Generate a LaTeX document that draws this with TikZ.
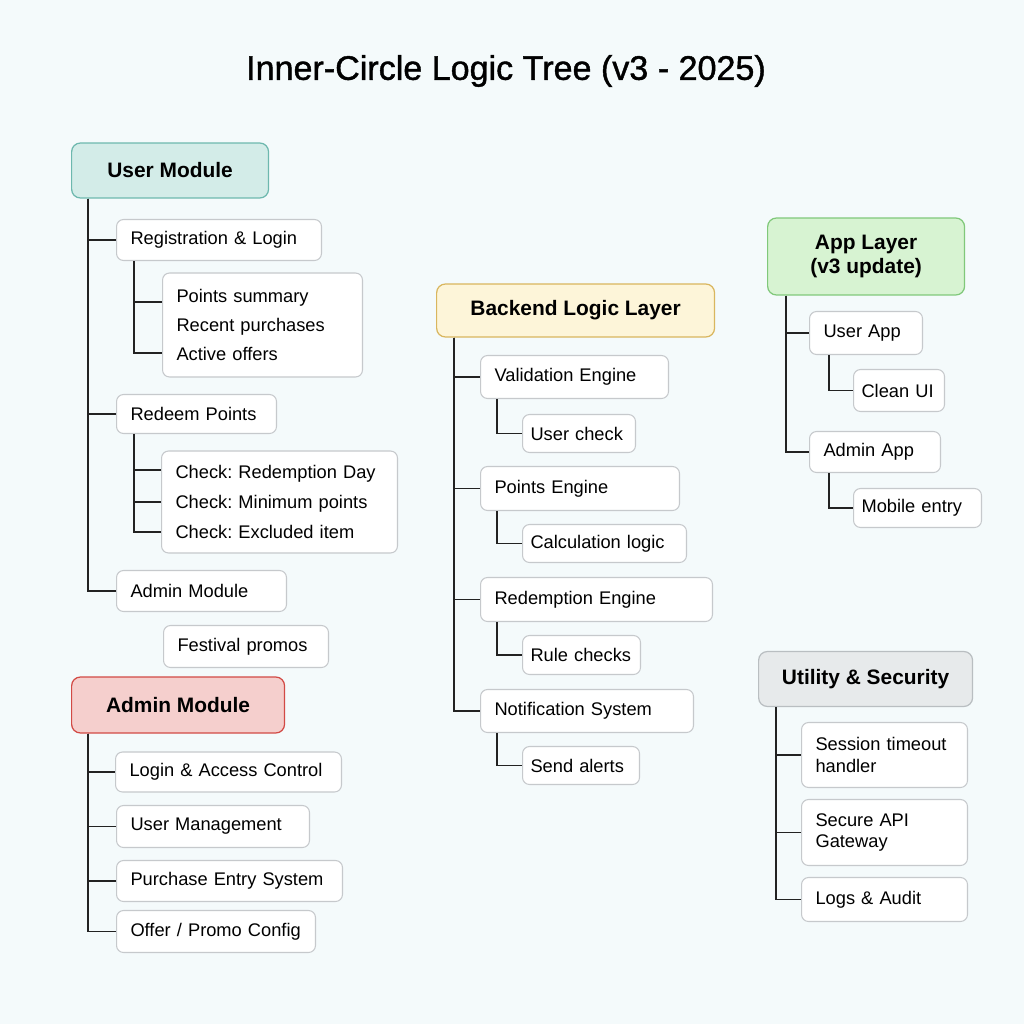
\documentclass[tikz,border=0pt]{standalone}
\usepackage{fontspec}
\setmainfont{Liberation Sans}
\newfontfamily\titlefont[FakeBold=1.2]{Liberation Sans}
\usepackage{tikz}
\frenchspacing

\definecolor{bgcol}{HTML}{F4FAFB}
\definecolor{wirecol}{HTML}{222222}
\definecolor{boxline}{HTML}{C6C9CC}
\definecolor{usrfill}{HTML}{D3ECE8}
\definecolor{usrline}{HTML}{6DB8AE}
\definecolor{admfill}{HTML}{F5CFCD}
\definecolor{admline}{HTML}{D24A45}
\definecolor{bckfill}{HTML}{FDF5D9}
\definecolor{bckline}{HTML}{D9B65E}
\definecolor{appfill}{HTML}{D7F3D2}
\definecolor{appline}{HTML}{80C87A}
\definecolor{utlfill}{HTML}{E7EAEB}
\definecolor{utlline}{HTML}{B9BEC1}

\begin{document}
\begin{tikzpicture}[x=0.02cm, y=-0.02cm,
		leaf/.style={draw=boxline, line width=0.6pt, fill=white, rounded corners=4pt,
			anchor=west, inner xsep=0.28cm, inner ysep=0pt, align=left,
			font=\fontsize{10.4}{12.5}\selectfont},
		sub/.style={leaf, inner xsep=0.16cm},
		head/.style={line width=0.7pt, rounded corners=5pt, anchor=west,
			inner sep=0pt, align=center, font=\bfseries\fontsize{11.9}{14.2}\selectfont},
		wire/.style={draw=wirecol, line width=0.8pt}
	]
		\fill[bgcol] (0,0) rectangle (1024,1024);
		
		\node[font=\titlefont\fontsize{19.4}{22}\selectfont] (title) at (506,71) {Inner-Circle Logic Tree (v3 - 2025)};
		
		% user module
		\node[head, draw=usrline, fill=usrfill, minimum width=3.94cm, minimum height=1.10cm] (um) at (71,170.5) {User Module};
		\node[leaf, text width=3.54cm, minimum height=0.82cm] (reg) at (116,240) {Registration \& Login};
		\node[leaf, text width=3.44cm, minimum height=2.08cm, font=\fontsize{10.4}{16.4}\selectfont] (pts) at (162,325) {Points summary\\Recent purchases\\Active offers};
		\node[leaf, text width=2.64cm, minimum height=0.78cm] (red) at (116,414) {Redeem Points};
		\node[leaf, text width=4.16cm, minimum height=2.04cm, font=\fontsize{10.4}{17.3}\selectfont] (chk) at (161,502) {Check: Redemption Day\\Check: Minimum points\\Check: Excluded item};
		\node[leaf, text width=2.84cm, minimum height=0.82cm] (adc) at (116,591) {Admin Module};
		\node[leaf, text width=2.74cm, minimum height=0.84cm] (fes) at (163,646.5) {Festival promos};
		
		\draw[wire] ([xshift=0.34cm]um.south west) |- (reg.west);
		\draw[wire] ([xshift=0.34cm]um.south west) |- (red.west);
		\draw[wire] ([xshift=0.34cm]um.south west) |- (adc.west);
		\draw[wire] ([xshift=0.36cm]reg.south west) |- ([yshift=0.46cm]pts.west);
		\draw[wire] ([xshift=0.36cm]reg.south west) |- ([yshift=-0.56cm]pts.west);
		\draw[wire] ([xshift=0.36cm]red.south west) |- ([yshift=0.64cm]chk.west);
		\draw[wire] ([xshift=0.36cm]red.south west) |- (chk.west);
		\draw[wire] ([xshift=0.36cm]red.south west) |- ([yshift=-0.60cm]chk.west);
		
		% admin module
		\node[head, draw=admline, fill=admfill, minimum width=4.26cm, minimum height=1.12cm] (am) at (71,705) {Admin Module};
		\node[leaf, text width=3.96cm, minimum height=0.80cm] (lac) at (115,772) {Login \& Access Control};
		\node[leaf, text width=3.30cm, minimum height=0.84cm] (umg) at (116,826.5) {User Management};
		\node[leaf, text width=3.96cm, minimum height=0.82cm] (pes) at (116,881) {Purchase Entry System};
		\node[leaf, text width=3.42cm, minimum height=0.84cm] (opc) at (116,931.5) {Offer / Promo Config};
		
		\draw[wire] ([xshift=0.34cm]am.south west) |- (lac.west);
		\draw[wire] ([xshift=0.34cm]am.south west) |- (umg.west);
		\draw[wire] ([xshift=0.34cm]am.south west) |- (pes.west);
		\draw[wire] ([xshift=0.34cm]am.south west) |- (opc.west);
		
		% backend logic layer
		\node[head, draw=bckline, fill=bckfill, minimum width=5.56cm, minimum height=1.06cm] (bl) at (436,310.5) {Backend Logic Layer};
		\node[leaf, text width=3.20cm, minimum height=0.86cm] (val) at (480,377) {Validation Engine};
		\node[sub, text width=1.94cm, minimum height=0.76cm] (uch) at (522,433.5) {User check};
		\node[leaf, text width=3.42cm, minimum height=0.88cm] (pen) at (480,488.5) {Points Engine};
		\node[sub, text width=2.96cm, minimum height=0.76cm] (cal) at (522,543.5) {Calculation logic};
		\node[leaf, text width=4.08cm, minimum height=0.88cm] (ren) at (480,599.5) {Redemption Engine};
		\node[sub, text width=2.04cm, minimum height=0.78cm] (rul) at (522,655) {Rule checks};
		\node[leaf, text width=3.70cm, minimum height=0.86cm] (ntf) at (480,711) {Notification System};
		\node[sub, text width=2.02cm, minimum height=0.76cm] (snd) at (522,765.5) {Send alerts};
		
		\draw[wire] ([xshift=0.36cm]bl.south west) |- (val.west);
		\draw[wire] ([xshift=0.36cm]bl.south west) |- (pen.west);
		\draw[wire] ([xshift=0.36cm]bl.south west) |- (ren.west);
		\draw[wire] ([xshift=0.36cm]bl.south west) |- (ntf.west);
		\draw[wire] ([xshift=0.34cm]val.south west) |- (uch.west);
		\draw[wire] ([xshift=0.34cm]pen.south west) |- (cal.west);
		\draw[wire] ([xshift=0.34cm]ren.south west) |- (rul.west);
		\draw[wire] ([xshift=0.34cm]ntf.south west) |- (snd.west);
		
		% app layer
		\node[head, draw=appline, fill=appfill, minimum width=3.94cm, minimum height=1.54cm] (al) at (767,256.5) {App Layer\\(v3 update)};
		\node[leaf, text width=1.70cm, minimum height=0.86cm] (uap) at (809,333) {User App};
		\node[sub, text width=1.50cm, minimum height=0.84cm] (clu) at (853,390.5) {Clean UI};
		\node[leaf, text width=2.06cm, minimum height=0.82cm] (aap) at (809,452) {Admin App};
		\node[sub, text width=2.24cm, minimum height=0.78cm] (mob) at (853,508) {Mobile entry};
		
		\draw[wire] ([xshift=0.38cm]al.south west) |- (uap.west);
		\draw[wire] ([xshift=0.38cm]al.south west) |- (aap.west);
		\draw[wire] ([xshift=0.40cm]uap.south west) |- (clu.west);
		\draw[wire] ([xshift=0.40cm]aap.south west) |- (mob.west);
		
		% utility & security
		\node[head, draw=utlline, fill=utlfill, minimum width=4.28cm, minimum height=1.10cm] (us) at (758,679) {Utility \& Security};
		\node[leaf, text width=2.76cm, minimum height=1.30cm] (ses) at (801,755) {Session timeout\\handler};
		\node[leaf, text width=2.76cm, minimum height=1.32cm] (sag) at (801,832.5) {Secure API\\Gateway};
		\node[leaf, text width=2.76cm, minimum height=0.88cm] (log) at (801,899.5) {Logs \& Audit};
		
		\draw[wire] ([xshift=0.36cm]us.south west) |- (ses.west);
		\draw[wire] ([xshift=0.36cm]us.south west) |- (sag.west);
		\draw[wire] ([xshift=0.36cm]us.south west) |- (log.west);
	\end{tikzpicture}
\end{document}
